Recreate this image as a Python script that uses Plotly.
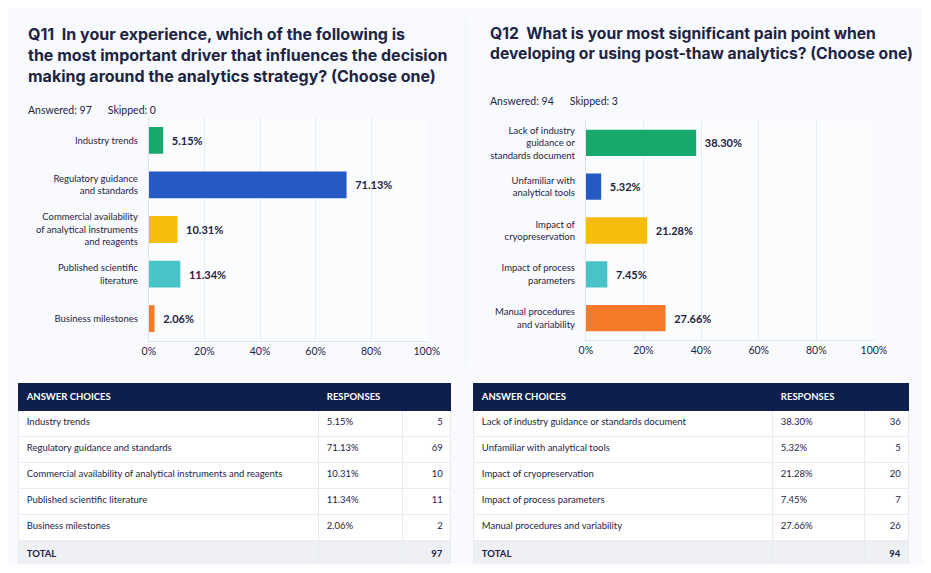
import plotly.graph_objects as go

# Q11 data
q11_labels = ["Industry trends", "Regulatory guidance<br>and standards",
              "Commercial availability<br>of analytical instruments<br>and reagents",
              "Published scientific<br>literature", "Business milestones"]
q11_choices = ["Industry trends", "Regulatory guidance and standards",
               "Commercial availability of analytical instruments and reagents",
               "Published scientific literature", "Business milestones"]
q11_pct = [5.15, 71.13, 10.31, 11.34, 2.06]
q11_count = [5, 69, 10, 11, 2]
q11_answered = 97
q11_skipped = 0

# Q12 data
q12_labels = ["Lack of industry<br>guidance or<br>standards document",
              "Unfamiliar with<br>analytical tools", "Impact of<br>cryopreservation",
              "Impact of process<br>parameters", "Manual procedures<br>and variability"]
q12_choices = ["Lack of industry guidance or standards document",
               "Unfamiliar with analytical tools", "Impact of cryopreservation",
               "Impact of process parameters", "Manual procedures and variability"]
q12_pct = [38.30, 5.32, 21.28, 7.45, 27.66]
q12_count = [36, 5, 20, 7, 26]
q12_answered = 94
q12_skipped = 3

x_ticks = [0, 20, 40, 60, 80, 100]
x_ticktext = ["0%", "20%", "40%", "60%", "80%", "100%"]

BAR_COLORS = ["#17a86b", "#2559c4", "#f6bd0e", "#48c3c8", "#f47b2a"]
NAVY = "#0d1f4a"
TEXT = "#1c2444"
GRID = "#e8ebf0"
TFONT = "Inter"
FONT = "Lato"

# page body keeps its 8px margin; size the figure so nothing overflows the window
OFF = 8
W, H = 931 - 2 * OFF, 573 - 2 * OFF
# horizontal fudge measured from a test render (page came out slightly squeezed)
SX, DX = 0.978, 6.4

fig = go.Figure()

def px_x(p):
    return ((p - DX) / SX - OFF) / W

def px_y(p):
    return 1 - (p - OFF) / H

def add_bars(labels, pct, xaxis, yaxis):
    fig.add_trace(go.Bar(
        x=pct, y=labels, orientation="h",
        marker=dict(color=BAR_COLORS, line=dict(width=0)),
        width=0.6,
        texttemplate="\u00a0\u00a0<b>%{x:.2f}%</b>", textposition="outside",
        textfont=dict(size=11, color=TEXT, family=FONT),
        cliponaxis=False,
        xaxis=xaxis, yaxis=yaxis, showlegend=False, hoverinfo="skip"))

def add_table(choices, pct, count, total, x0, x1, widths):
    n = len(choices)
    col1 = choices + ["<b>TOTAL</b>"]
    col2 = [f"{p:.2f}%" for p in pct] + [""]
    col3 = [str(c) for c in count] + [f"<b>{total}</b>"]
    fills = ["white"] * n + ["#eef0f4"]
    fig.add_trace(go.Table(
        domain=dict(x=[px_x(x0), px_x(x1)], y=[px_y(565), px_y(383)]),
        columnwidth=widths,
        header=dict(values=["<b>ANSWER CHOICES</b>", "<b>RESPONSES</b>", ""],
                    fill_color=NAVY, line_color=NAVY, height=22,
                    align=["left", "left", "right"],
                    font=dict(color="white", size=9.5, family=FONT)),
        cells=dict(values=[col1, col2, col3],
                   fill_color=[fills, fills, fills],
                   line_color=GRID, height=26,
                   align=["left", "left", "right"],
                   font=dict(color=TEXT, size=9.5, family=FONT))))

add_bars(q11_labels, q11_pct, "x", "y")
add_bars(q12_labels, q12_pct, "x2", "y2")
add_table(q11_choices, q11_pct, q11_count, q11_answered, 18, 450, [300, 84, 48])
add_table(q12_choices, q12_pct, q12_count, q12_answered, 473, 908, [299, 92, 44])

xcommon = dict(range=[0, 100], tickvals=x_ticks, ticktext=x_ticktext,
               showgrid=True, gridcolor=GRID, gridwidth=1,
               showline=True, linecolor="#dfe3ea", zeroline=False,
               tickfont=dict(size=10.5, color=TEXT, family=FONT), ticks="")
ycommon = dict(autorange="reversed", showline=True, linecolor="#dfe3ea",
               tickfont=dict(size=9.5, color=TEXT, family=FONT), ticks="",
               ticklabelstandoff=8)

fig.update_layout(
    width=W, height=H,
    margin=dict(l=0, r=0, t=0, b=0),
    paper_bgcolor="#f9fafd", plot_bgcolor="#fbfcfe",
    font=dict(family=FONT, color=TEXT),
    xaxis=dict(domain=[px_x(148), px_x(426)], anchor="y", **xcommon),
    yaxis=dict(domain=[px_y(341), px_y(118)], anchor="x", **ycommon),
    xaxis2=dict(domain=[px_x(585), px_x(873)], anchor="y2", **xcommon),
    yaxis2=dict(domain=[px_y(340), px_y(121)], anchor="x2", **ycommon),
)

# titles and answered / skipped lines
fig.add_annotation(
    x=px_x(25), y=px_y(22), xref="paper", yref="paper", xanchor="left", yanchor="top",
    align="left", showarrow=False,
    text="<b>Q11  In your experience, which of the following is<br>"
         "the most important driver that influences the decision<br>"
         "making around the analytics strategy? (Choose one)</b>",
    font=dict(size=16, color=TEXT, family=TFONT))
fig.add_annotation(
    x=px_x(25), y=px_y(102), xref="paper", yref="paper", xanchor="left",
    showarrow=False,
    text=f"Answered: {q11_answered}      Skipped: {q11_skipped}",
    font=dict(size=10.5, color=TEXT, family=FONT))
fig.add_annotation(
    x=px_x(487), y=px_y(22), xref="paper", yref="paper", xanchor="left", yanchor="top",
    align="left", showarrow=False,
    text="<b>Q12  What is your most significant pain point when<br>"
         "developing or using post-thaw analytics? (Choose one)</b>",
    font=dict(size=15.7, color=TEXT, family=TFONT))
fig.add_annotation(
    x=px_x(487), y=px_y(93), xref="paper", yref="paper", xanchor="left",
    showarrow=False,
    text=f"Answered: {q12_answered}      Skipped: {q12_skipped}",
    font=dict(size=10.5, color=TEXT, family=FONT))

# faint divider between the two panels
fig.add_shape(type="line", xref="paper", yref="paper",
              x0=px_x(465), x1=px_x(465), y0=px_y(365), y1=px_y(20),
              line=dict(color="#eceff4", width=1))

fig.write_html("out.html")
